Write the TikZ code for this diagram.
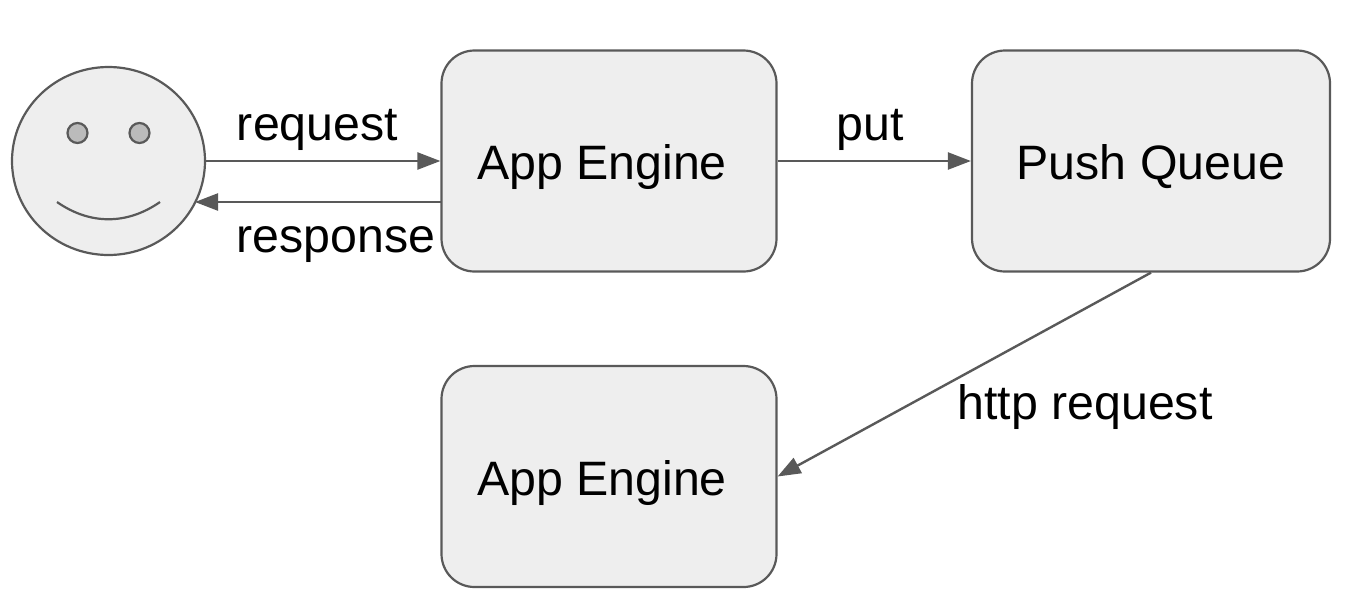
\documentclass[tikz,border=0pt]{standalone}
\usepackage{fontspec}
\setmainfont{Liberation Sans}
\usetikzlibrary{arrows.meta,positioning,shapes.geometric}
\definecolor{boxfill}{HTML}{EEEEEE}
\definecolor{boxline}{HTML}{595959}
\definecolor{eyefill}{HTML}{BBBBBB}
\tikzset{
  engine/.style={draw=boxline,fill=boxfill,line width=2.2pt,rounded corners=33pt,minimum height=221pt,inner sep=0pt,text height=47pt,text depth=10pt,font=\fontsize{48.3}{48}\selectfont},
  link/.style={draw=boxline,line width=2.4pt,-{Triangle[length=23pt,width=17pt]}},
  tag/.style={inner sep=0pt,font=\fontsize{48.3}{48}\selectfont},
  eye/.style={circle,draw=boxline,fill=eyefill,line width=2.2pt,minimum size=20pt,inner sep=0pt}
}
\begin{document}
\begin{tikzpicture}[x=1pt,y=-1pt]
\useasboundingbox (0,0) rectangle (1354,614);
\node [ellipse,draw=boxline,fill=boxfill,line width=2.2pt,minimum width=193pt,minimum height=188pt,inner sep=0pt] (user) at (108.5,161) {};
\node [eye] (lefteye) at (77.5,133) {};
\node [eye] (righteye) at (139.5,133) {};
\coordinate (smilea) at (57,202);
\coordinate (smileb) at (160,202);
\draw [boxline,line width=2.2pt] (smilea) .. controls (90,225) and (127,225) .. (smileb);
\node [engine,minimum width=335pt] (engine) at (609,161) {App Engine\hspace*{14pt}};
\node [engine,minimum width=358pt] (queue) at (1151,161) {Push Queue};
\node [engine,minimum width=335pt] (worker) at (609,476.5) {App Engine\hspace*{14pt}};
\coordinate (replyend) at (195,202);
\coordinate (replystart) at (441,202);
\draw [link] (user.east) -- (user.east -| engine.west);
\draw [link] (replystart) -- (replyend);
\draw [link] (engine.east) -- (queue.west);
\draw [link] (queue.south) -- (worker.east);
\node [tag] (requesttag) at (317.5,130) {request};
\node [tag] (responsetag) at (336,245) {response};
\node [tag] (puttag) at (870,130) {put};
\node [tag] (httptag) at (1085,407) {http request};
\end{tikzpicture}
\end{document}
